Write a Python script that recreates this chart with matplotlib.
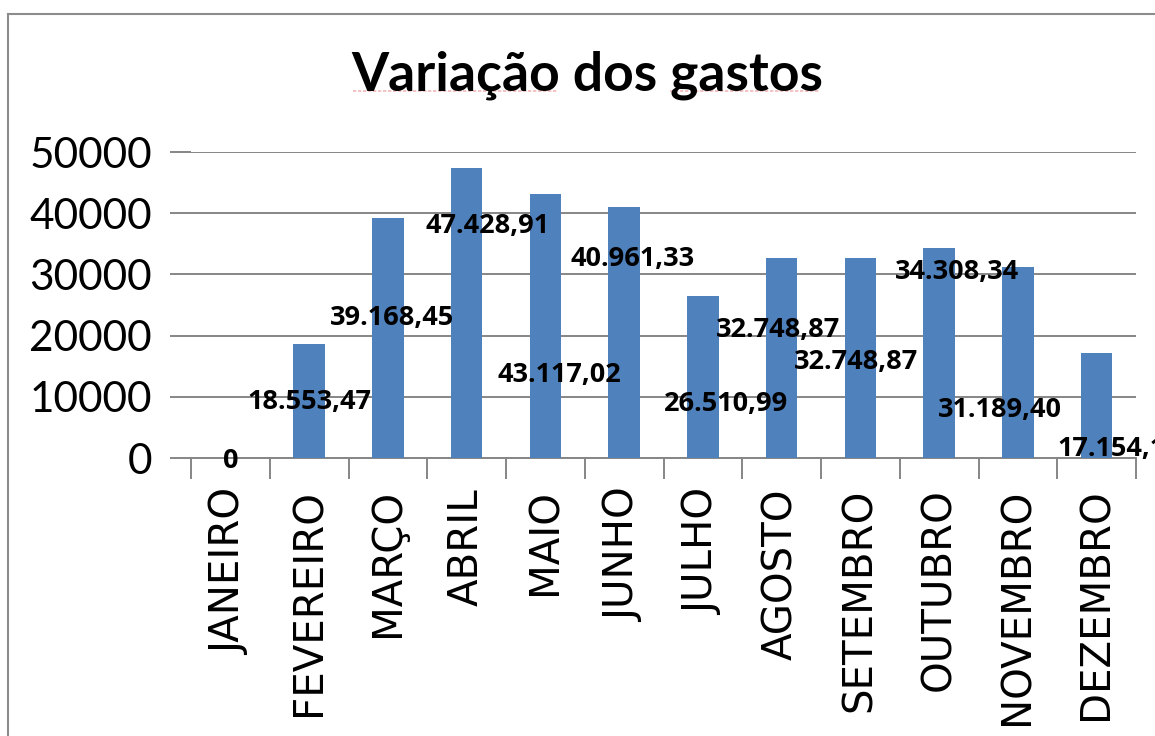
import matplotlib.pyplot as plt
from matplotlib.lines import Line2D
import numpy as np

meses = ['JANEIRO', 'FEVEREIRO', 'MARÇO', 'ABRIL', 'MAIO', 'JUNHO', 'JULHO',
         'AGOSTO', 'SETEMBRO', 'OUTUBRO', 'NOVEMBRO', 'DEZEMBRO']
gastos = [0, 18553.47, 39168.45, 47428.91, 43117.02, 40961.33, 26510.99,
          32748.87, 32748.87, 34308.34, 31189.40, 17154.17]
y_ticks = [0, 10000, 20000, 30000, 40000, 50000]

# where the data labels sit (they are scattered in the original)
label_dx = [0, 0.01, 0.05, 0.27, 0.18, 0.11, 0.30, -0.05, -0.05, 0.23, -0.23, 0.29]
label_y = [-500, 9150, 22875, 37900, 13560, 32500, 8820, 20900, 15700, 30400, 7840, 1470]


def fmt_br(v):
    if v == 0:
        return '0'
    s = f'{v:,.2f}'
    return s.replace(',', 'X').replace('.', ',').replace('X', '.')


grid_color = '#868686'
bar_color = '#4F81BD'

fig = plt.figure(figsize=(11.55, 7.36), dpi=100)
ax = fig.add_axes([191 / 1155, (736 - 458) / 736, (1136 - 191) / 1155, (458 - 152) / 736])

x = np.arange(len(meses))
ax.bar(x, gastos, width=0.4, color=bar_color, zorder=3)

for i, v in enumerate(gastos):
    ax.text(i + label_dx[i], label_y[i], fmt_br(v), ha='center', va='center',
            fontsize=19.5, fontweight='bold', family='Open Sans', color='black',
            clip_on=False, zorder=4)

ax.set_xlim(-0.5, len(meses) - 0.5)
ax.set_ylim(0, 50000)
ax.set_yticks(y_ticks)
ax.set_yticklabels([str(t) for t in y_ticks])
for lbl in ax.get_yticklabels():
    lbl.set_fontfamily('Lato')
    lbl.set_fontsize(30.5)
ax.yaxis.grid(True, color=grid_color, linewidth=1.4, zorder=0)
ax.tick_params(axis='y', length=15, width=1.4, color=grid_color, pad=13)

ax.set_xticks(x)
ax.set_xticklabels(meses, rotation=90)
for lbl in ax.get_xticklabels():
    lbl.set_fontfamily('DejaVu Sans')
    lbl.set_fontsize(29)
ax.set_xticks(np.arange(-0.5, len(meses)), minor=True)
ax.tick_params(axis='x', which='major', length=0, pad=22)
ax.tick_params(axis='x', which='minor', length=15, width=1.4, color=grid_color)

for side in ['left', 'right', 'top']:
    ax.spines[side].set_visible(False)
ax.spines['bottom'].set_color(grid_color)
ax.spines['bottom'].set_linewidth(1.4)

fig.text(587 / 1155, (736 - 90) / 736, 'Variação dos gastos', ha='center',
         va='baseline', fontsize=38.5, fontweight='bold', family='Lato')

# spell-check squiggle under the title
uy = 1 - 91 / 736
fig.add_artist(Line2D([353 / 1155, 558 / 1155], [uy, uy], color='#f2b8b8', lw=1.2, ls=(0, (2, 1))))
fig.add_artist(Line2D([670 / 1155, 820 / 1155], [uy, uy], color='#f2b8b8', lw=1.2, ls=(0, (2, 1))))

# chart area border
fig.add_artist(Line2D([8 / 1155, 8 / 1155], [0, 1 - 14 / 736], color='#8c8c8c', lw=1.5))
fig.add_artist(Line2D([8 / 1155, 1], [1 - 14 / 736, 1 - 14 / 736], color='#8c8c8c', lw=1.5))

fig.savefig('out.png', dpi=100)
